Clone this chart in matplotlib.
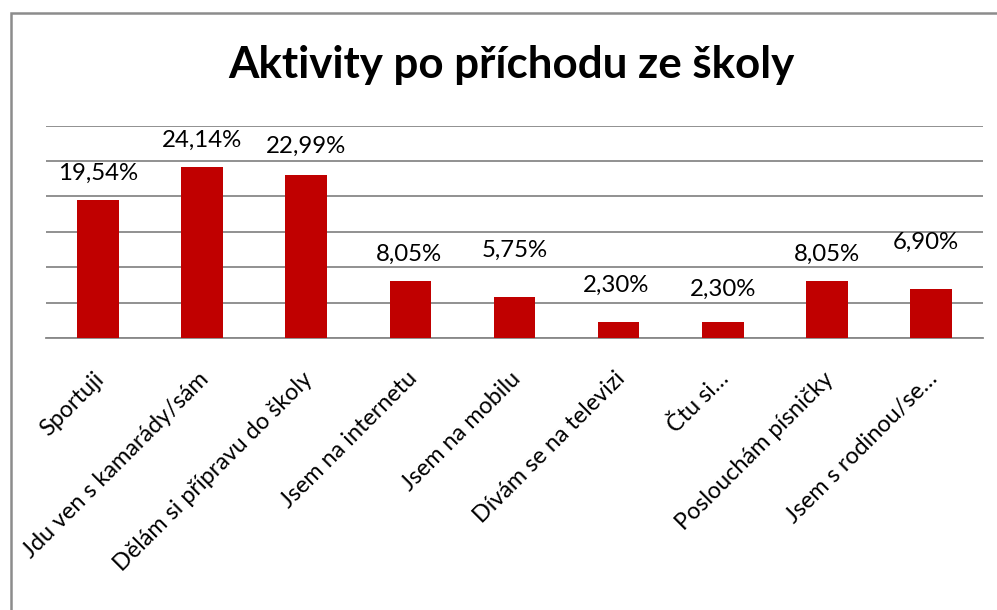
import matplotlib
matplotlib.use("Agg")
import matplotlib.pyplot as plt
from matplotlib.patches import Rectangle
from matplotlib.transforms import ScaledTranslation

# Data
categories = [
    "Sportuji",
    "Jdu ven s kamarády/sám",
    "Dělám si přípravu do školy",
    "Jsem na internetu",
    "Jsem na mobilu",
    "Dívám se na televizi",
    "Čtu si…",
    "Poslouchám písničky",
    "Jsem s rodinou/se…",
]
values = [19.54, 24.14, 22.99, 8.05, 5.75, 2.30, 2.30, 8.05, 6.90]
value_labels = ["19,54%", "24,14%", "22,99%", "8,05%", "5,75%", "2,30%", "2,30%", "8,05%", "6,90%"]

# Manual label offsets (pixels) as placed in the original chart
label_dy = [26, 27, 29, 27, 47, 36, 32, 27, 47]
label_dx = [0, 0, 0, -1, 0, -3, 0, 0, -5]

plt.rcParams['font.family'] = ['Lato', 'DejaVu Sans']

W, H = 997, 610
fig = plt.figure(figsize=(W / 100, H / 100), dpi=100)

# Chart border (cropped on right and bottom)
fig.patches.append(Rectangle((11 / W, -0.1), 1.2, 1 - 13 / H + 0.1, transform=fig.transFigure,
                             fill=False, edgecolor='#8c8c8c', linewidth=1.8))

ax = fig.add_axes([46 / W, (H - 338) / H, (983 - 46) / W, (338 - 125.6) / H])

x = range(len(categories))
ax.bar(x, values, width=0.4, color='#c00000', zorder=3)
ax.set_xlim(-0.5, len(categories) - 0.5)
ax.set_ylim(0, 30)
ax.set_yticks(range(0, 31, 5))
ax.yaxis.grid(True, color='#888888', linewidth=1.3, zorder=0)
ax.tick_params(axis='y', left=False, labelleft=False)
ax.tick_params(axis='x', length=0, pad=27)
for s in ['top', 'right', 'left']:
    ax.spines[s].set_visible(False)
ax.spines['bottom'].set_color('#888888')
ax.spines['bottom'].set_linewidth(1.3)

ax.set_xticks(list(x))
ax.set_xticklabels(categories, rotation=45, ha='right', va='center',
                   rotation_mode='anchor', fontsize=16.8)
shift = ScaledTranslation(3 / 100, 0, fig.dpi_scale_trans)
for lab in ax.get_xticklabels():
    lab.set_transform(lab.get_transform() + shift)

for i, (v, lab) in enumerate(zip(values, value_labels)):
    ax.annotate(lab, (i, v), xytext=(label_dx[i], label_dy[i]), textcoords='offset pixels',
                ha='center', va='center', fontsize=17.3)

fig.text(511 / W, 1 - 65 / H, "Aktivity po příchodu ze školy", ha='center', va='center',
         fontsize=31.6, fontweight='bold')

fig.savefig("out.png", dpi=100, facecolor='white')
